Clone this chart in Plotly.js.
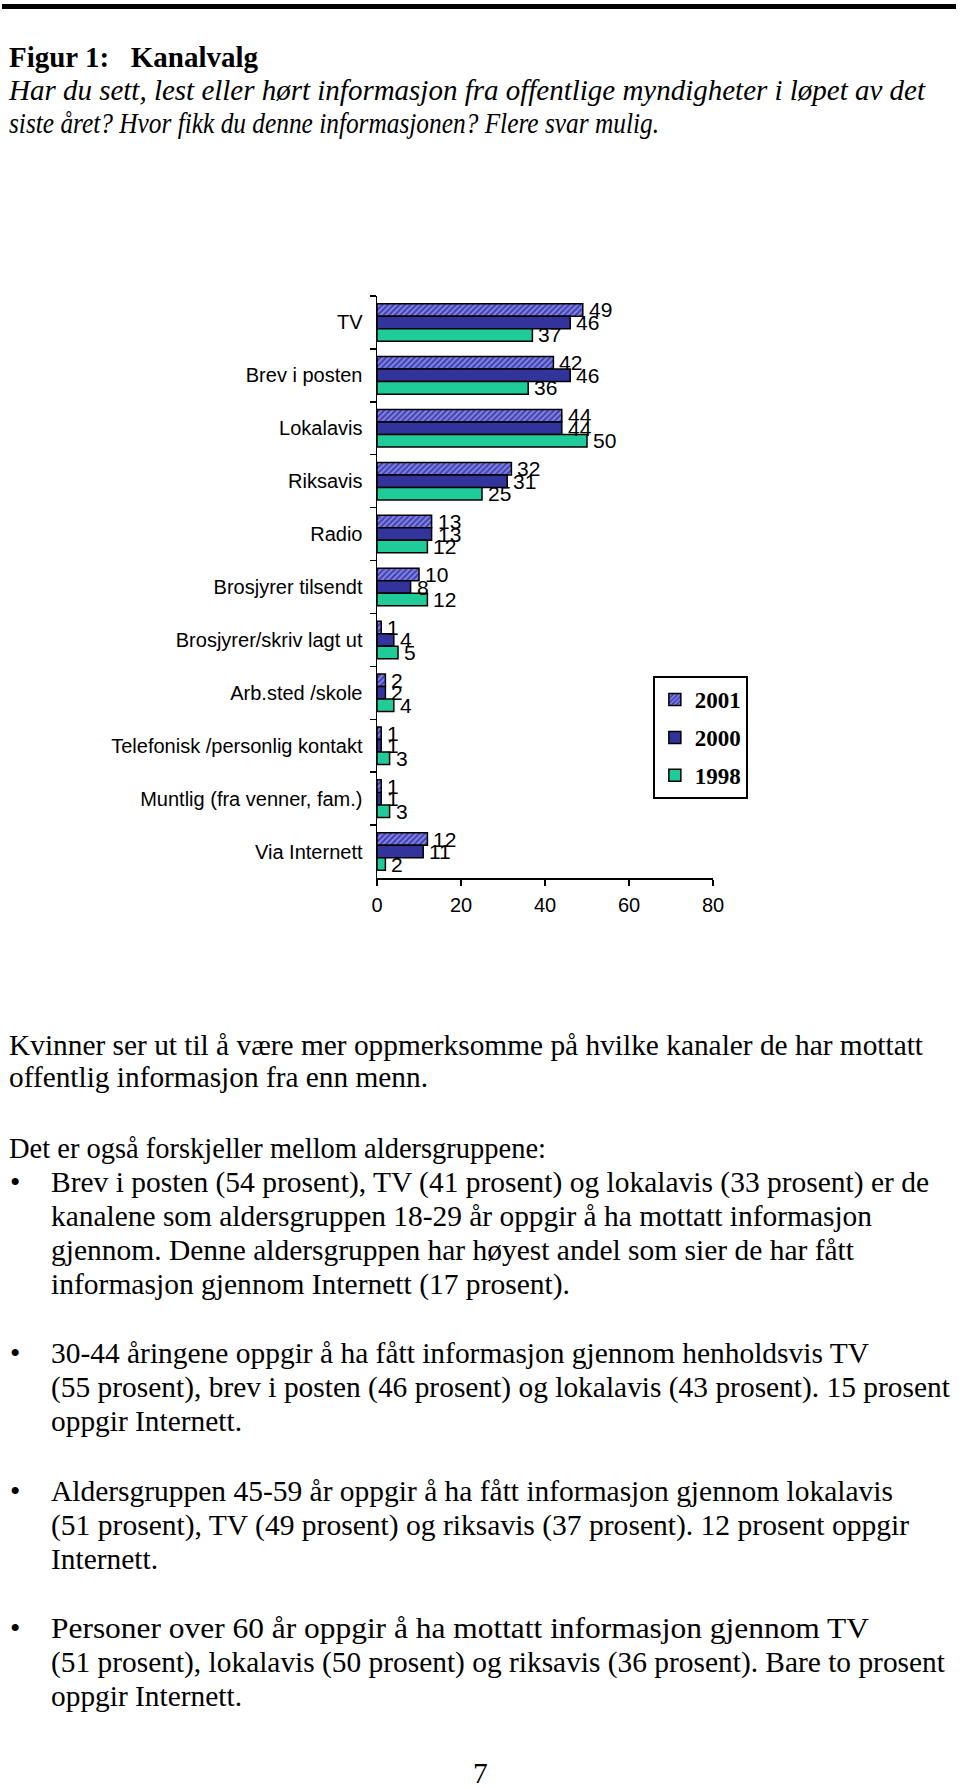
<!DOCTYPE html>
<html>
<head>
<meta charset="utf-8">
<script src="https://cdn.plot.ly/plotly-3.0.1.min.js"></script>
<style>
  html, body { margin: 0; padding: 0; background: #fff; }
  body { width: 960px; height: 1788px; position: relative; overflow: hidden; }
  .ln { position: absolute; white-space: nowrap; font-family: "Liberation Serif", "Times New Roman", serif;
        font-size: 29.5px; line-height: 34px; color: #000; transform-origin: 0 0; }
  .it { font-style: italic; }
  .bd { font-weight: bold; }
  #rule { position: absolute; left: 2px; top: 4px; width: 954px; height: 5px; background: #000; }
  #chart { position: absolute; left: 0; top: 250px; width: 960px; height: 700px; }
</style>
</head>
<body>
<div id="rule"></div>
<div id="chart"></div>
<div id="text"></div>
<script>
// ---------- data ----------
const categories = [
  "TV", "Brev i posten", "Lokalavis", "Riksavis", "Radio", "Brosjyrer tilsendt",
  "Brosjyrer/skriv lagt ut", "Arb.sted /skole", "Telefonisk /personlig kontakt",
  "Muntlig (fra venner, fam.)", "Via Internett"
];
const values2001 = [49, 42, 44, 32, 13, 10, 1, 2, 1, 1, 12];
const values2000 = [46, 46, 44, 31, 13, 8, 4, 2, 1, 1, 11];
const values1998 = [37, 36, 50, 25, 12, 12, 5, 4, 3, 3, 2];
const seriesNames = ["2001", "2000", "1998"];
const xTicks = [0, 20, 40, 60, 80];

// ---------- chart ----------
const lineStyle = { color: "#000", width: 1.5 };
const sans = "Liberation Sans, Arial, sans-serif";

function barTrace(vals, name, marker, group) {
  return {
    type: "bar", orientation: "h", y: categories, x: vals, name: "<b>" + name + "</b>",
    legendgroup: group, marker: Object.assign({ line: lineStyle }, marker),
    textposition: "none", hoverinfo: "x+y"
  };
}

const traces = [
  barTrace(values2001, seriesNames[0], {
    color: "#4646B8",
    pattern: { shape: "/", fgcolor: "#8A8AE4", bgcolor: "#4343B4", size: 4, solidity: 0.45 }
  }, "g1"),
  barTrace(values2000, seriesNames[1], { color: "#33339C" }, "g2"),
  barTrace(values1998, seriesNames[2], { color: "#1FCB99" }, "g3")
];

// value labels placed through the axes (x = value, y = category), shifted to each bar of the group
const seriesVals = [values2001, values2000, values1998];
const barShift = [12.5, 0, -12.5];
const annotations = [];
seriesVals.forEach((vals, s) => {
  vals.forEach((v, j) => {
    annotations.push({
      x: v, y: categories[j], xref: "x", yref: "y", text: String(v), showarrow: false,
      xanchor: "left", yanchor: "middle", xshift: 4, yshift: barShift[s],
      font: { family: sans, size: 21, color: "#000" }
    });
  });
});

const layout = {
  width: 960, height: 700,
  margin: { l: 377, r: 247, t: 46, b: 72, pad: 0 },
  paper_bgcolor: "#fff", plot_bgcolor: "#fff",
  barmode: "group", bargap: 0.29, bargroupgap: 0,
  showlegend: true,
  annotations: annotations,
  legend: {
    x: 0.821, y: 0.347, xanchor: "left", yanchor: "top",
    bordercolor: "#000", borderwidth: 2, bgcolor: "#fff",
    traceorder: "grouped", tracegroupgap: 5, itemwidth: 30,
    font: { family: "Liberation Serif, Times New Roman, serif", size: 23, color: "#000" }
  },
  xaxis: {
    range: [0, 80], tickvals: xTicks, ticktext: xTicks.map(String),
    showgrid: false, zeroline: false, showline: true, linecolor: "#000", linewidth: 1.5,
    ticks: "outside", ticklen: 6, tickwidth: 1.5, tickcolor: "#000", ticklabelstandoff: 2,
    tickfont: { family: sans, size: 20, color: "#000" },
    fixedrange: true
  },
  yaxis: {
    type: "category", autorange: "reversed",
    showgrid: false, zeroline: false, showline: true, linecolor: "#000", linewidth: 1.5,
    ticks: "outside", tickson: "boundaries", ticklen: 6, tickwidth: 1.5, tickcolor: "#000",
    ticklabelstandoff: 9,
    tickfont: { family: sans, size: 20, color: "#000" },
    fixedrange: true
  }
};

Plotly.newPlot("chart", traces, layout, { displayModeBar: false, staticPlot: true });

// ---------- page text ----------
// [text, left, baseline, targetWidth, class]
const pageLines = [
  ["Figur 1:\u00a0\u00a0\u00a0Kanalvalg", 9, 67, 249, "bd"],
  ["Har du sett, lest eller hørt informasjon fra offentlige myndigheter i løpet av det", 9, 100, 916, "it"],
  ["siste året? Hvor fikk du denne informasjonen? Flere svar mulig.", 9, 133, 650, "it"],
  ["Kvinner ser ut til å være mer oppmerksomme på hvilke kanaler de har mottatt", 9, 1055, 914, ""],
  ["offentlig informasjon fra enn menn.", 9, 1087, 419, ""],
  ["Det er også forskjeller mellom aldersgruppene:", 9, 1158, 537, ""],
  ["Brev i posten (54 prosent), TV (41 prosent) og lokalavis (33 prosent) er de", 51, 1192, 878, ""],
  ["kanalene som aldersgruppen 18-29 år oppgir å ha mottatt informasjon", 51, 1226, 821, ""],
  ["gjennom. Denne aldersgruppen har høyest andel som sier de har fått", 51, 1260, 803, ""],
  ["informasjon gjennom Internett (17 prosent).", 51, 1294, 519, ""],
  ["30-44 åringene oppgir å ha fått informasjon gjennom henholdsvis TV", 51, 1363, 818, ""],
  ["(55 prosent), brev i posten (46 prosent) og lokalavis (43 prosent). 15 prosent", 51, 1397, 899, ""],
  ["oppgir Internett.", 51, 1431, 191, ""],
  ["Aldersgruppen 45-59 år oppgir å ha fått informasjon gjennom lokalavis", 51, 1501, 842, ""],
  ["(51 prosent), TV (49 prosent) og riksavis (37 prosent). 12 prosent oppgir", 51, 1535, 858, ""],
  ["Internett.", 51, 1569, 107, ""],
  ["Personer over 60 år oppgir å ha mottatt informasjon gjennom TV", 51, 1638, 818, ""],
  ["(51 prosent), lokalavis (50 prosent) og riksavis (36 prosent). Bare to prosent", 51, 1672, 894, ""],
  ["oppgir Internett.", 51, 1706, 191, ""]
];
const bulletBaselines = [1192, 1363, 1501, 1638];
const pageNumber = ["7", 480, 1783];

const holder = document.getElementById("text");
const fitEls = [];
pageLines.forEach(([t, x, base, w, cls]) => {
  const d = document.createElement("div");
  d.className = "ln " + cls;
  d.textContent = t;
  d.style.left = x + "px";
  d.style.top = (base - 27) + "px";
  holder.appendChild(d);
  fitEls.push([d, w]);
});
bulletBaselines.forEach(b => {
  const d = document.createElement("div");
  d.className = "ln";
  d.textContent = "\u2022";
  d.style.left = "10px";
  d.style.top = (b - 27) + "px";
  holder.appendChild(d);
});
{
  const d = document.createElement("div");
  d.className = "ln";
  d.textContent = pageNumber[0];
  d.style.left = (pageNumber[1] - 7) + "px";
  d.style.top = (pageNumber[2] - 27) + "px";
  holder.appendChild(d);
}
function fit() {
  fitEls.forEach(([d, w]) => {
    d.style.transform = "none";
    const nat = d.getBoundingClientRect().width;
    if (nat > 0) d.style.transform = "scaleX(" + (w / nat).toFixed(4) + ")";
  });
}
fit();
if (document.fonts && document.fonts.ready) document.fonts.ready.then(fit);
</script>
</body>
</html>
